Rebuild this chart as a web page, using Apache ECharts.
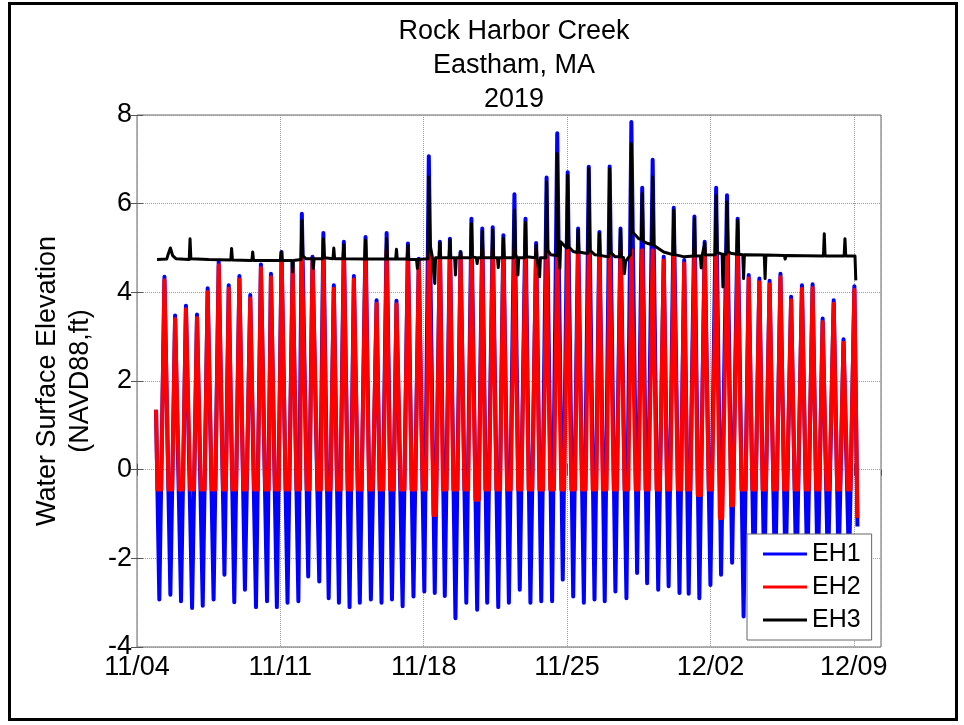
<!DOCTYPE html>
<html><head><meta charset="utf-8">
<script src="https://cdn.jsdelivr.net/npm/echarts@6/dist/echarts.min.js"></script>
<style>html,body{margin:0;padding:0;background:#fff}#c{width:964px;height:725px}</style>
</head><body><div id="c"></div>
<script>
// x values are days since 2019-11-04 00:00
const titleLines = ['Rock Harbor Creek', 'Eastham, MA', '2019'];
const yAxisTitle = ['Water Surface Elevation', '(NAVD88,ft)'];
const xTickLabels = ['11/04', '11/11', '11/18', '11/25', '12/02', '12/09'];
const seriesNames = ['EH1', 'EH2', 'EH3'];

const eh1 = [
[0.93,1.35],
[1.09,-2.93],[1.34,4.35],[1.63,-2.82],[1.86,3.48],[2.15,-2.97],[2.39,3.70],
[2.69,-3.12],[2.93,3.50],[3.21,-3.07],[3.45,4.09],[3.74,-2.93],[3.99,4.69],
[4.27,-2.37],[4.48,4.16],[4.75,-2.99],[5.00,4.37],[5.27,-2.71],[5.53,3.94],
[5.81,-3.10],[6.05,4.63],[6.35,-2.97],[6.54,4.42],[6.83,-3.10],[7.06,4.91],
[7.35,-3.00],[7.60,4.65],[7.88,-2.97],[8.05,5.77],[8.36,-2.41],[8.57,4.80],
[8.90,-2.52],[9.10,5.34],[9.36,-2.90],[9.61,4.16],[9.86,-3.00],[10.10,5.14],
[10.38,-3.10],[10.59,4.37],[10.88,-3.00],[11.16,5.25],[11.42,-2.93],[11.70,3.82],
[11.94,-3.00],[12.19,5.34],[12.45,-2.93],[12.67,3.81],[12.97,-3.08],[13.23,5.10],
[13.50,-2.86],[13.76,4.76],[14.03,-2.75],[14.25,7.07],[14.54,-2.78],[14.79,5.14],
[15.03,-2.85],[15.28,5.21],[15.55,-3.35],[15.80,4.91],[16.08,-3.00],[16.33,5.66],
[16.61,-3.16],[16.86,5.44],[17.10,-3.00],[17.37,5.47],[17.64,-3.10],[17.89,5.29],
[18.16,-3.00],[18.43,6.21],[18.69,-2.71],[18.97,5.66],[19.21,-3.00],[19.49,5.11],
[19.74,-2.97],[20.00,6.59],[20.27,-2.97],[20.52,7.59],[20.79,-2.48],[21.03,6.71],
[21.30,-2.86],[21.54,5.44],[21.82,-3.00],[22.06,6.83],[22.34,-2.93],[22.58,5.36],
[22.84,-2.97],[23.08,6.84],[23.36,-2.75],[23.61,5.44],[23.90,-2.90],[24.14,7.84],
[24.42,-2.33],[24.67,6.36],[24.91,-2.56],[25.18,6.99],[25.45,-2.71],[25.72,4.80],
[25.96,-2.63],[26.21,5.91],[26.49,-2.78],[26.72,4.73],[26.94,-2.80],[27.22,5.71],
[27.46,-2.90],[27.72,5.14],[28.00,-2.60],[28.28,6.36],[28.52,-2.37],[28.81,6.19],
[29.06,-2.10],[29.33,5.66],[29.62,-3.31],[29.87,4.39],[30.13,-2.60],[30.39,4.31],
[30.63,-2.50],[30.89,4.26],[31.16,-2.60],[31.42,4.42],[31.67,-2.40],[31.94,3.90],
[32.20,-2.60],[32.47,4.16],[32.73,-2.40],[32.99,4.18],[33.24,-2.50],[33.48,3.41],
[33.74,-2.30],[34.02,3.82],[34.26,-2.20],[34.50,2.94],[34.77,-2.20],[35.03,4.14],
[35.18,-1.28]
];

const eh2 = [
[0.93,1.35],
[1.00,-0.45],[1.18,-0.45],[1.34,4.27],[1.54,-0.45],[1.72,-0.45],[1.86,3.40],
[2.06,-0.45],[2.24,-0.45],[2.39,3.62],[2.60,-0.45],[2.78,-0.45],[2.93,3.42],
[3.12,-0.45],[3.30,-0.45],[3.45,4.01],[3.65,-0.45],[3.83,-0.45],[3.99,4.61],
[4.20,-0.45],[4.34,-0.45],[4.48,4.08],[4.66,-0.45],[4.84,-0.45],[5.00,4.29],
[5.19,-0.45],[5.35,-0.45],[5.53,3.86],[5.72,-0.45],[5.90,-0.45],[6.05,4.55],
[6.26,-0.45],[6.43,-0.45],[6.54,4.34],[6.74,-0.45],[6.92,-0.45],[7.06,4.83],
[7.26,-0.45],[7.44,-0.45],[7.60,4.57],[7.79,-0.45],[7.96,-0.45],[8.05,4.95],
[8.29,-0.45],[8.43,-0.45],[8.57,4.72],[8.82,-0.45],[8.98,-0.45],[9.10,4.95],
[9.27,-0.45],[9.45,-0.45],[9.61,4.08],[9.77,-0.45],[9.95,-0.45],[10.10,4.95],
[10.29,-0.45],[10.47,-0.45],[10.59,4.29],[10.79,-0.45],[10.97,-0.45],[11.16,4.95],
[11.33,-0.45],[11.51,-0.45],[11.70,3.74],[11.85,-0.45],[12.03,-0.45],[12.19,4.95],
[12.36,-0.45],[12.54,-0.45],[12.67,3.73],[12.88,-0.45],[13.06,-0.45],[13.23,4.95],
[13.41,-0.45],[13.59,-0.45],[13.76,4.68],[13.95,-0.45],[14.11,-0.45],[14.25,4.95],
[14.48,-1.02],[14.60,-1.02],[14.79,4.95],[14.94,-0.45],[15.12,-0.45],[15.28,4.95],
[15.45,-0.45],[15.65,-0.45],[15.80,4.83],[15.99,-0.45],[16.17,-0.45],[16.33,4.95],
[16.53,-0.68],[16.69,-0.68],[16.86,4.95],[17.01,-0.45],[17.19,-0.45],[17.37,4.95],
[17.55,-0.45],[17.73,-0.45],[17.89,4.95],[18.07,-0.45],[18.25,-0.45],[18.43,4.95],
[18.61,-0.45],[18.77,-0.45],[18.97,4.95],[19.12,-0.45],[19.30,-0.45],[19.49,4.95],
[19.65,-0.45],[19.83,-0.45],[20.00,4.95],[20.18,-0.45],[20.36,-0.45],[20.52,4.95],
[20.72,-0.45],[20.86,-0.45],[21.03,4.95],[21.21,-0.45],[21.39,-0.45],[21.54,4.95],
[21.73,-0.45],[21.91,-0.45],[22.06,4.95],[22.25,-0.45],[22.43,-0.45],[22.58,4.95],
[22.75,-0.45],[22.93,-0.45],[23.08,4.95],[23.28,-0.45],[23.44,-0.45],[23.61,4.95],
[23.81,-0.45],[23.99,-0.45],[24.14,4.95],[24.35,-0.45],[24.49,-0.45],[24.67,4.95],
[24.83,-0.45],[24.99,-0.45],[25.18,4.95],[25.37,-0.45],[25.53,-0.45],[25.72,4.72],
[25.88,-0.45],[26.04,-0.45],[26.21,4.95],[26.41,-0.45],[26.57,-0.45],[26.72,4.65],
[26.86,-0.45],[27.02,-0.45],[27.22,4.95],[27.38,-0.57],[27.54,-0.57],[27.72,4.95],
[27.92,-0.45],[28.08,-0.45],[28.28,4.95],[28.46,-1.09],[28.58,-1.09],[28.81,4.95],
[29.01,-0.80],[29.11,-0.80],[29.33,4.95],[29.52,-0.45],[29.72,-0.45],[29.87,4.31],
[30.05,-0.45],[30.21,-0.45],[30.39,4.23],[30.55,-0.45],[30.71,-0.45],[30.89,4.18],
[31.08,-0.45],[31.24,-0.45],[31.42,4.34],[31.60,-0.45],[31.74,-0.45],[31.94,3.82],
[32.12,-0.45],[32.28,-0.45],[32.47,4.08],[32.66,-0.45],[32.80,-0.45],[32.99,4.10],
[33.16,-0.45],[33.32,-0.45],[33.48,3.33],[33.67,-0.45],[33.81,-0.45],[34.02,3.74],
[34.19,-0.45],[34.33,-0.45],[34.50,2.86],[34.70,-0.45],[34.84,-0.45],[35.03,4.06],
[35.18,-1.09]
];

const eh3 = [
[0.98,4.74],[1.45,4.75],[1.53,4.87],[1.63,5.00],[1.74,4.83],[1.90,4.76],
[2.55,4.74],[2.59,5.21],[2.63,4.76],
[3.50,4.74],[4.58,4.73],[4.62,4.99],[4.66,4.73],
[5.61,4.72],[5.65,4.91],[5.69,4.72],
[7.00,4.72],[7.04,4.91],[7.08,4.72],
[7.56,4.72],[7.60,4.46],[7.64,4.72],
[8.01,4.74],[8.05,5.62],[8.10,4.82],[8.25,4.76],
[8.57,4.76],[8.61,4.54],[8.65,4.76],
[9.06,4.76],[9.10,5.21],[9.15,4.78],
[9.57,4.76],[9.61,5.00],[9.65,4.76],
[10.06,4.76],[10.10,5.08],[10.14,4.76],
[11.12,4.75],[11.16,5.18],[11.20,4.75],
[12.15,4.75],[12.19,5.21],[12.23,4.75],
[12.63,4.75],[12.67,4.97],[12.71,4.75],
[13.19,4.75],[13.23,5.06],[13.27,4.74],
[13.65,4.74],[13.69,4.54],[13.73,4.74],
[14.21,4.76],[14.25,6.60],[14.30,5.10],[14.42,4.80],[14.50,4.78],[14.54,4.20],[14.58,4.78],
[14.75,4.78],[14.79,5.12],[14.83,4.78],
[15.24,4.78],[15.28,5.18],[15.32,4.78],
[15.51,4.78],[15.55,4.39],[15.59,4.78],
[15.76,4.78],[15.80,4.91],[15.84,4.78],
[16.29,4.78],[16.33,5.55],[16.37,4.80],
[16.57,4.78],[16.61,4.65],[16.65,4.78],
[16.82,4.78],[16.86,5.38],[16.90,4.78],
[17.33,4.78],[17.37,5.40],[17.41,4.78],
[17.60,4.78],[17.64,4.56],[17.68,4.78],
[17.85,4.78],[17.89,5.22],[17.93,4.78],
[18.39,4.78],[18.43,5.85],[18.48,4.85],
[18.56,4.78],[18.60,4.39],[18.64,4.78],
[18.93,4.78],[18.97,5.58],[19.01,4.80],
[19.45,4.78],[19.49,5.06],[19.53,4.78],
[19.62,4.78],[19.66,4.35],[19.70,4.78],
[19.96,4.78],[20.00,6.49],[20.05,4.95],[20.20,4.85],
[20.48,4.83],[20.52,7.13],[20.57,5.00],[20.61,4.80],[20.65,4.54],[20.69,5.14],[20.85,5.06],
[20.99,5.00],[21.03,6.64],[21.08,5.03],[21.30,4.92],
[21.50,4.90],[21.54,5.40],[21.58,4.91],[21.90,4.88],
[22.02,4.88],[22.06,6.79],[22.11,4.95],[22.35,4.85],
[22.54,4.84],[22.58,5.32],[22.62,4.83],
[23.04,4.80],[23.08,6.79],[23.13,4.90],[23.35,4.80],
[23.57,4.80],[23.61,5.40],[23.65,4.80],
[23.76,4.78],[23.80,4.42],[23.86,4.70],
[24.10,4.85],[24.14,7.35],[24.20,5.36],[24.50,5.21],
[24.63,5.20],[24.67,6.23],[24.72,5.15],[24.95,5.10],
[25.14,5.08],[25.18,6.60],[25.23,5.06],[25.72,4.91],
[26.17,4.85],[26.21,5.85],[26.26,4.85],[26.73,4.80],
[27.18,4.82],[27.22,5.66],[27.26,4.82],
[27.51,4.82],[27.55,4.55],[27.59,4.82],
[27.68,4.82],[27.72,5.10],[27.76,4.84],
[28.24,4.85],[28.28,6.19],[28.33,4.90],[28.46,4.88],
[28.57,4.86],[28.61,4.12],[28.65,4.86],
[28.77,4.86],[28.81,6.04],[28.86,4.92],[29.00,4.88],
[29.29,4.86],[29.33,5.62],[29.38,4.86],
[29.58,4.85],[29.62,4.31],[29.66,4.85],
[30.63,4.84],[30.67,4.31],[30.71,4.84],
[31.61,4.83],[31.65,4.75],[31.69,4.83],
[33.52,4.82],[33.56,5.32],[33.60,4.82],
[34.53,4.82],[34.57,5.21],[34.61,4.82],
[35.06,4.82],[35.10,4.27]
];

const FONT = '"Liberation Sans", Arial, Helvetica, sans-serif';
const chart = echarts.init(document.getElementById('c'), null, {renderer: 'canvas'});
const tickStyle = {inside: true, length: 6, lineStyle: {color: '#555', width: 1}};
const gridLine = {show: true, lineStyle: {type: 'dotted', color: '#9a9a9a', width: 1}};
const seriesData = [eh1, eh2, eh3];
const colors = ['#0000ff', '#ff0000', '#000000'];
const widths = [4, 4, 3];

chart.setOption({
  animation: false,
  backgroundColor: '#ffffff',
  title: {
    text: titleLines.join('\n'),
    left: 509, top: 10, textAlign: 'center',
    textStyle: {fontFamily: FONT, fontSize: 27, fontWeight: 'normal', color: '#000', lineHeight: 34}
  },
  grid: {left: 137, right: 83, top: 115, bottom: 78, show: true, borderColor: '#666', borderWidth: 1},
  xAxis: [{
    type: 'value', min: 0, max: 36.33, interval: 7,
    axisLine: {show: false}, axisTick: tickStyle,
    axisLabel: {
      formatter: v => (Math.abs(v % 7) < 1e-6 ? (xTickLabels[Math.round(v / 7)] || '') : ''),
      showMaxLabel: false, fontFamily: FONT, fontSize: 27, color: '#000', margin: 7
    },
    splitLine: gridLine
  }, {
    type: 'value', position: 'top', min: 0, max: 36.33, interval: 7,
    axisLine: {show: false}, axisTick: tickStyle, axisLabel: {show: false}, splitLine: {show: false}
  }],
  yAxis: [{
    type: 'value', min: -4, max: 8, interval: 2,
    name: yAxisTitle.join('\n'), nameLocation: 'middle', nameGap: 33,
    nameTextStyle: {fontFamily: FONT, fontSize: 27, color: '#000', lineHeight: 33},
    axisLine: {show: false}, axisTick: tickStyle,
    axisLabel: {fontFamily: FONT, fontSize: 27, color: '#000', margin: 5},
    splitLine: gridLine
  }, {
    type: 'value', position: 'right', min: -4, max: 8, interval: 2,
    axisLine: {show: false}, axisTick: tickStyle, axisLabel: {show: false}, splitLine: {show: false}
  }],
  legend: {
    orient: 'vertical', left: 747, top: 534,
    data: seriesNames, icon: 'rect', itemWidth: 44, itemHeight: 3, itemGap: 5,
    backgroundColor: '#fff', borderColor: '#666', borderWidth: 1, borderRadius: 0,
    padding: [6, 11, 6, 16],
    textStyle: {fontFamily: FONT, fontSize: 25, color: '#000', lineHeight: 28}
  },
  series: seriesNames.map((n, i) => ({
    name: n, type: 'line', data: seriesData[i], xAxisIndex: 0, yAxisIndex: 0,
    showSymbol: false, symbol: 'none', clip: true,
    lineStyle: {color: colors[i], width: widths[i], join: 'round'},
    itemStyle: {color: colors[i]},
    emphasis: {disabled: true}
  })),
  graphic: [{
    type: 'rect', silent: true, z: 100,
    shape: {x: 9.5, y: 3.5, width: 947, height: 716},
    style: {fill: 'none', stroke: '#000', lineWidth: 3}
  }]
});
</script></body></html>
